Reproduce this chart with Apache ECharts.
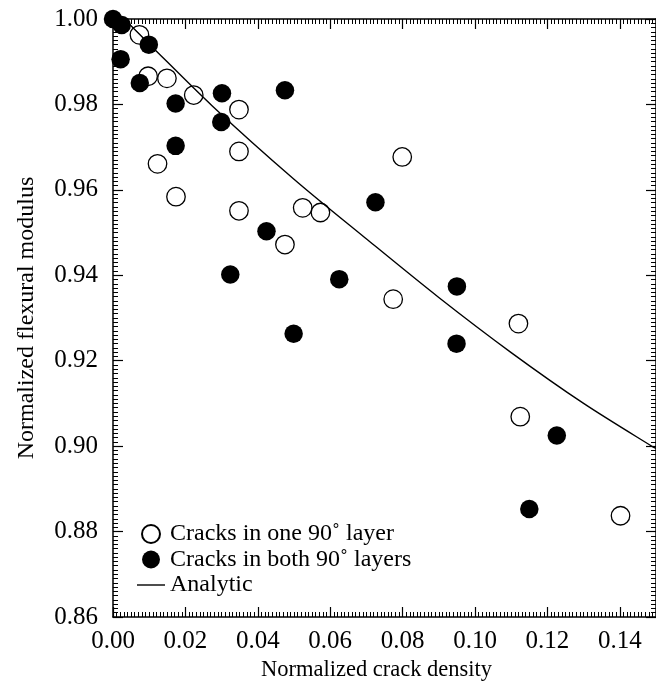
<!DOCTYPE html>
<html>
<head>
<meta charset="utf-8">
<script src="https://cdn.jsdelivr.net/npm/echarts@6/dist/echarts.min.js"></script>
<style>
html,body{margin:0;padding:0;background:#fff;}
#main{width:656px;height:687px;}
</style>
</head>
<body>
<div id="main"></div>
<script>
// Cracks in one 90° layer (open circles)
var oneX = [0.0073, 0.0097, 0.0149, 0.0223, 0.0348, 0.0123, 0.0348, 0.0174, 0.0348, 0.0524, 0.0573, 0.0475, 0.0799, 0.0774, 0.1120, 0.1125, 0.1402];
var oneY = [0.9963, 0.9866, 0.9861, 0.9822, 0.9788, 0.9661, 0.9690, 0.9584, 0.9551, 0.9558, 0.9547, 0.9472, 0.9677, 0.9344, 0.9287, 0.9069, 0.8837];
// Cracks in both 90° layers (filled circles)
var bothX = [0.0000, 0.0024, 0.0021, 0.0099, 0.0074, 0.0173, 0.0173, 0.0301, 0.0299, 0.0475, 0.0424, 0.0324, 0.0625, 0.0499, 0.0725, 0.0950, 0.0949, 0.1226, 0.1150];
var bothY = [1.0000, 0.9986, 0.9906, 0.9940, 0.9850, 0.9802, 0.9703, 0.9826, 0.9759, 0.9833, 0.9503, 0.9402, 0.9391, 0.9263, 0.9571, 0.9374, 0.9240, 0.9025, 0.8853];
// Analytic curve
var anaX = [0.0031, 0.0102, 0.0275, 0.050, 0.0696, 0.090, 0.110, 0.130, 0.149, 0.150];
var anaY = [1.0000, 0.9940, 0.9796, 0.9625, 0.9488, 0.9348, 0.9219, 0.9100, 0.8999, 0.8995];

var seriesNames = ['Cracks in one 90\u02DA layer', 'Cracks in both 90\u02DA layers', 'Analytic'];

function pairs(xs, ys) { return xs.map(function (x, i) { return [x, ys[i]]; }); }

var FONT = 'Liberation Serif';
var chart = echarts.init(document.getElementById('main'), null, {renderer: 'canvas'});

function xAxisCfg(pos, showLabel) {
  return {
    type: 'value', position: pos, min: 0, max: 0.15, interval: 0.02,
    axisLine: {show: true, onZero: false, lineStyle: {color: '#000', width: 1.5}},
    axisTick: {show: true, inside: true, length: 10, lineStyle: {color: '#000', width: 1.2}},
    minorTick: {show: true, splitNumber: 20, length: 5, lineStyle: {color: '#000', width: 1}},
    splitLine: {show: false}, minorSplitLine: {show: false},
    axisLabel: {show: showLabel, showMaxLabel: false, margin: 12, color: '#000', fontFamily: FONT, fontSize: 25,
      formatter: function (v) { return v.toFixed(2); }},
    name: showLabel ? 'Normalized crack density' : '', nameLocation: 'middle', nameGap: 42,
    nameTextStyle: {color: '#000', fontFamily: FONT, fontSize: 22.5, padding: [0, 16, 0, 0]}
  };
}
function yAxisCfg(pos, showLabel) {
  return {
    type: 'value', position: pos, min: 0.86, max: 1.0, interval: 0.02,
    axisLine: {show: true, onZero: false, lineStyle: {color: '#000', width: 1.5}},
    axisTick: {show: true, inside: true, length: 10, lineStyle: {color: '#000', width: 1.2}},
    minorTick: {show: true, splitNumber: 20, length: 5, lineStyle: {color: '#000', width: 1}},
    splitLine: {show: false}, minorSplitLine: {show: false},
    axisLabel: {show: showLabel, margin: 15, color: '#000', fontFamily: FONT, fontSize: 25,
      formatter: function (v) { return v.toFixed(2); }},
    name: showLabel ? 'Normalized flexural modulus' : '', nameLocation: 'middle', nameGap: 74, nameRotate: 90,
    nameTextStyle: {color: '#000', fontFamily: FONT, fontSize: 24}
  };
}

chart.setOption({
  animation: false,
  backgroundColor: '#fff',
  grid: {left: 113, top: 19, right: -4, bottom: 66, containLabel: false},
  xAxis: [xAxisCfg('bottom', true), xAxisCfg('top', false)],
  yAxis: [yAxisCfg('left', true), yAxisCfg('right', false)],
  legend: {
    orient: 'vertical', left: 132, top: 517, itemWidth: 28, itemHeight: 18, itemGap: 1.5,
    textStyle: {color: '#000', fontFamily: FONT, fontSize: 24},
    data: [
      {name: seriesNames[0], icon: 'circle'},
      {name: seriesNames[1], icon: 'circle'},
      {name: seriesNames[2], icon: 'path://M0,0h28v1.4h-28z'}
    ]
  },
  series: [
    {
      name: seriesNames[0], type: 'scatter', clip: false, symbol: 'circle', symbolSize: 18.5,
      itemStyle: {color: '#fff', borderColor: '#000', borderWidth: 1.3, opacity: 1},
      data: pairs(oneX, oneY), z: 3
    },
    {
      name: seriesNames[1], type: 'scatter', clip: false, symbol: 'circle', symbolSize: 18.5,
      itemStyle: {color: '#000', borderColor: '#000', borderWidth: 0, opacity: 1},
      data: pairs(bothX, bothY), z: 4
    },
    {
      name: seriesNames[2], type: 'line', showSymbol: false, symbol: 'none', smooth: 0.3,
      lineStyle: {color: '#000', width: 1.4}, itemStyle: {color: '#000'},
      data: pairs(anaX, anaY), z: 5
    }
  ]
});
</script>
</body>
</html>
